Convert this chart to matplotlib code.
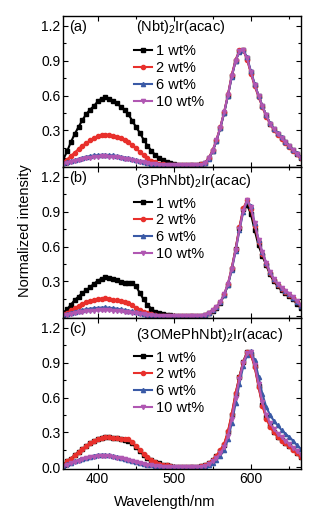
import matplotlib
matplotlib.use("Agg")
import matplotlib.pyplot as plt
import numpy as np
from matplotlib.ticker import MultipleLocator

plt.rcParams['font.family'] = ['Liberation Sans', 'DejaVu Sans']
plt.rcParams['mathtext.fontset'] = 'custom'
plt.rcParams['mathtext.rm'] = 'Liberation Sans'
plt.rcParams['mathtext.it'] = 'Liberation Sans:italic'

# wavelength grid, nm (355 ... 665 every 5 nm)
wavelength = np.arange(355, 666, 5)

labels = ['1 wt%', '2 wt%', '6 wt%', '10 wt%']
titles = ['(Nbt)$_2$Ir(acac)', '(3PhNbt)$_2$Ir(acac)', '(3OMePhNbt)$_2$Ir(acac)']
panel_tags = ['(a)', '(b)', '(c)']

# panel (a)
a_1wt = [0.05, 0.12, 0.20, 0.27, 0.33, 0.39, 0.44, 0.48, 0.51, 0.55, 0.575, 0.585, 0.575, 0.555, 0.535, 0.505,
         0.475, 0.44, 0.385, 0.33, 0.28, 0.22, 0.17, 0.125, 0.09, 0.065, 0.045, 0.03, 0.018, 0.01, 0.005, 0.002,
         0.0, 0.0, 0.0, 0.002, 0.008, 0.02, 0.06, 0.12, 0.21, 0.32, 0.45, 0.6, 0.77, 0.9, 0.985, 0.99,
         0.92, 0.8, 0.69, 0.6, 0.51, 0.43, 0.36, 0.31, 0.27, 0.235, 0.2, 0.165, 0.13, 0.1, 0.065]
a_2wt = [0.025, 0.05, 0.08, 0.11, 0.14, 0.17, 0.19, 0.215, 0.235, 0.25, 0.26, 0.265, 0.262, 0.255, 0.248, 0.235,
         0.22, 0.2, 0.175, 0.145, 0.115, 0.085, 0.06, 0.04, 0.025, 0.015, 0.008, 0.004, 0.002, 0.0, 0.0, 0.0,
         0.0, 0.0, 0.0, 0.002, 0.008, 0.022, 0.065, 0.13, 0.22, 0.33, 0.46, 0.61, 0.78, 0.91, 0.99, 0.995,
         0.91, 0.79, 0.68, 0.59, 0.5, 0.42, 0.355, 0.305, 0.265, 0.23, 0.195, 0.16, 0.125, 0.095, 0.06]
a_6wt = [0.018, 0.025, 0.035, 0.045, 0.055, 0.065, 0.073, 0.08, 0.085, 0.088, 0.09, 0.09, 0.088, 0.085, 0.08, 0.074,
         0.067, 0.06, 0.052, 0.044, 0.036, 0.028, 0.021, 0.015, 0.01, 0.006, 0.003, 0.002, 0.0, 0.0, 0.0, 0.0,
         0.0, 0.0, 0.0, 0.002, 0.007, 0.02, 0.058, 0.12, 0.21, 0.32, 0.45, 0.6, 0.76, 0.9, 0.98, 0.995,
         0.93, 0.81, 0.7, 0.6, 0.51, 0.43, 0.365, 0.315, 0.275, 0.24, 0.205, 0.17, 0.135, 0.105, 0.07]
a_10wt = [0.015, 0.021, 0.029, 0.037, 0.045, 0.053, 0.06, 0.066, 0.071, 0.074, 0.076, 0.076, 0.075, 0.072, 0.068, 0.063,
          0.057, 0.051, 0.045, 0.038, 0.031, 0.025, 0.019, 0.014, 0.01, 0.006, 0.003, 0.002, 0.0, 0.0, 0.0, 0.0,
          0.0, 0.0, 0.0, 0.002, 0.007, 0.02, 0.06, 0.125, 0.215, 0.325, 0.455, 0.605, 0.77, 0.9, 0.985, 0.99,
          0.92, 0.8, 0.69, 0.6, 0.51, 0.43, 0.36, 0.31, 0.27, 0.235, 0.2, 0.165, 0.13, 0.1, 0.065]

# panel (b)
b_1wt = [0.03, 0.06, 0.1, 0.14, 0.17, 0.2, 0.225, 0.25, 0.28, 0.305, 0.325, 0.335, 0.332, 0.325, 0.31, 0.295,
         0.29, 0.29, 0.285, 0.26, 0.2, 0.145, 0.1, 0.065, 0.04, 0.028, 0.02, 0.015, 0.01, 0.006, 0.003, 0.001,
         0.0, 0.0, 0.0, 0.002, 0.005, 0.01, 0.025, 0.045, 0.075, 0.115, 0.18, 0.27, 0.41, 0.58, 0.76, 0.92,
         0.96, 0.88, 0.74, 0.61, 0.52, 0.44, 0.36, 0.3, 0.26, 0.225, 0.2, 0.175, 0.145, 0.11, 0.075]
b_2wt = [0.02, 0.03, 0.05, 0.07, 0.09, 0.105, 0.12, 0.13, 0.14, 0.148, 0.153, 0.155, 0.15, 0.143, 0.137, 0.13,
         0.122, 0.112, 0.095, 0.075, 0.055, 0.038, 0.025, 0.016, 0.01, 0.006, 0.003, 0.002, 0.001, 0.0, 0.0, 0.0,
         0.0, 0.0, 0.0, 0.002, 0.005, 0.01, 0.028, 0.05, 0.08, 0.12, 0.19, 0.28, 0.42, 0.58, 0.77, 0.93,
         1.0, 0.92, 0.78, 0.64, 0.54, 0.45, 0.37, 0.31, 0.27, 0.235, 0.21, 0.185, 0.155, 0.12, 0.085]
b_6wt = [0.015, 0.02, 0.03, 0.04, 0.048, 0.055, 0.061, 0.066, 0.07, 0.073, 0.075, 0.076, 0.074, 0.07, 0.066, 0.061,
         0.055, 0.049, 0.042, 0.035, 0.028, 0.021, 0.015, 0.01, 0.007, 0.004, 0.002, 0.001, 0.0, 0.0, 0.0, 0.0,
         0.0, 0.0, 0.0, 0.002, 0.005, 0.01, 0.028, 0.05, 0.08, 0.12, 0.185, 0.27, 0.4, 0.56, 0.74, 0.9,
         0.99, 0.95, 0.8, 0.66, 0.55, 0.46, 0.38, 0.32, 0.275, 0.24, 0.215, 0.19, 0.16, 0.125, 0.09]
b_10wt = [0.01, 0.015, 0.02, 0.027, 0.033, 0.038, 0.042, 0.046, 0.049, 0.051, 0.052, 0.052, 0.051, 0.049, 0.046, 0.043,
          0.039, 0.035, 0.03, 0.026, 0.021, 0.016, 0.012, 0.008, 0.005, 0.003, 0.002, 0.001, 0.0, 0.0, 0.0, 0.0,
          0.0, 0.0, 0.0, 0.002, 0.005, 0.01, 0.028, 0.05, 0.08, 0.12, 0.19, 0.28, 0.41, 0.57, 0.75, 0.91,
          1.0, 0.94, 0.8, 0.66, 0.55, 0.46, 0.38, 0.32, 0.28, 0.245, 0.22, 0.195, 0.165, 0.13, 0.095]

# panel (c)
c_1wt = [0.02, 0.05, 0.075, 0.105, 0.13, 0.155, 0.18, 0.205, 0.225, 0.243, 0.255, 0.26, 0.258, 0.253, 0.248, 0.243,
         0.237, 0.228, 0.205, 0.175, 0.14, 0.105, 0.08, 0.06, 0.045, 0.033, 0.023, 0.016, 0.01, 0.006, 0.003, 0.001,
         0.0, 0.0, 0.001, 0.003, 0.008, 0.018, 0.033, 0.06, 0.095, 0.14, 0.195, 0.3, 0.45, 0.63, 0.78, 0.91,
         0.99, 0.975, 0.87, 0.7, 0.54, 0.43, 0.355, 0.305, 0.265, 0.235, 0.21, 0.185, 0.155, 0.125, 0.09]
c_2wt = [0.02, 0.05, 0.075, 0.105, 0.13, 0.155, 0.18, 0.205, 0.225, 0.243, 0.255, 0.26, 0.258, 0.253, 0.25, 0.247,
         0.245, 0.24, 0.215, 0.185, 0.15, 0.115, 0.085, 0.062, 0.045, 0.032, 0.023, 0.016, 0.01, 0.006, 0.003, 0.001,
         0.0, 0.0, 0.001, 0.003, 0.008, 0.018, 0.035, 0.065, 0.1, 0.15, 0.2, 0.31, 0.46, 0.64, 0.78, 0.91,
         0.99, 0.97, 0.86, 0.69, 0.53, 0.42, 0.35, 0.3, 0.26, 0.23, 0.205, 0.18, 0.15, 0.12, 0.085]
c_6wt = [0.015, 0.025, 0.038, 0.05, 0.062, 0.073, 0.083, 0.092, 0.1, 0.106, 0.108, 0.107, 0.103, 0.097, 0.09, 0.082,
         0.072, 0.062, 0.053, 0.044, 0.036, 0.029, 0.023, 0.017, 0.012, 0.008, 0.005, 0.003, 0.002, 0.001, 0.0, 0.0,
         0.0, 0.0, 0.001, 0.002, 0.005, 0.01, 0.02, 0.04, 0.065, 0.1, 0.15, 0.24, 0.38, 0.55, 0.72, 0.87,
         0.97, 1.0, 0.92, 0.78, 0.63, 0.52, 0.45, 0.4, 0.36, 0.32, 0.29, 0.26, 0.23, 0.19, 0.16]
c_10wt = [0.013, 0.022, 0.034, 0.046, 0.057, 0.068, 0.077, 0.085, 0.092, 0.097, 0.099, 0.098, 0.095, 0.09, 0.084, 0.077,
          0.068, 0.059, 0.05, 0.042, 0.034, 0.027, 0.021, 0.016, 0.011, 0.007, 0.005, 0.003, 0.002, 0.001, 0.0, 0.0,
          0.0, 0.0, 0.001, 0.002, 0.006, 0.013, 0.028, 0.05, 0.08, 0.12, 0.175, 0.27, 0.42, 0.6, 0.76, 0.9,
          0.98, 0.99, 0.88, 0.72, 0.56, 0.45, 0.38, 0.33, 0.29, 0.26, 0.23, 0.2, 0.17, 0.14, 0.11]

panels = [[a_1wt, a_2wt, a_6wt, a_10wt],
          [b_1wt, b_2wt, b_6wt, b_10wt],
          [c_1wt, c_2wt, c_6wt, c_10wt]]

colors = ['#000000', '#e8302c', '#3a5aa6', '#b057b2']
markers = ['s', 'o', '^', 'v']

# per-panel text placement (axes fraction)
title_y = [0.925, 0.905, 0.885]
legend_top = [0.815, 0.805, 0.785]

fig, axes = plt.subplots(3, 1, figsize=(3.31, 5.19), dpi=100, sharex=True)
fig.subplots_adjust(left=0.191, right=0.9085, top=0.969, bottom=0.0963, hspace=0)

for i, ax in enumerate(axes):
    for series, lab, col, mk in zip(panels[i], labels, colors, markers):
        ax.plot(wavelength, series, color=col, marker=mk, markersize=3.0,
                markeredgecolor=col, linewidth=1.5, label=lab)
    ax.set_xlim(355, 665)
    ax.set_ylim(-0.015, 1.285)
    ax.xaxis.set_major_locator(MultipleLocator(100))
    ax.xaxis.set_minor_locator(MultipleLocator(50))
    ax.set_yticks([0.0, 0.3, 0.6, 0.9, 1.2])
    if i < 2:
        ax.set_yticklabels(['', '0.3', '0.6', '0.9', '1.2'])
    else:
        ax.set_yticklabels(['0.0', '0.3', '0.6', '0.9', '1.2'])
    ax.yaxis.set_minor_locator(MultipleLocator(0.15))
    ax.tick_params(which='both', direction='in', top=True, right=True, labelsize=10, width=0.8)
    ax.tick_params(which='major', length=3.5, pad=2)
    ax.tick_params(which='minor', length=2)
    for sp in ax.spines.values():
        sp.set_linewidth(1.0)
    ax.text(0.024, 0.925, panel_tags[i], transform=ax.transAxes, fontsize=10.5, va='center', ha='left')
    ax.text(0.305, title_y[i], titles[i], transform=ax.transAxes, fontsize=10.5, va='center', ha='left')
    ax.legend(loc='upper left', bbox_to_anchor=(0.3, legend_top[i]), frameon=False, fontsize=10.5,
              handlelength=1.2, handletextpad=0.25, labelspacing=0.2, borderpad=0, borderaxespad=0)

fig.text(0.075, 0.555, 'Normalized intensity', rotation=90, fontsize=10.5, ha='center', va='center')
fig.text(0.498, 0.033, 'Wavelength/nm', fontsize=10.5, ha='center', va='center')

fig.savefig('out.png', dpi=100)
